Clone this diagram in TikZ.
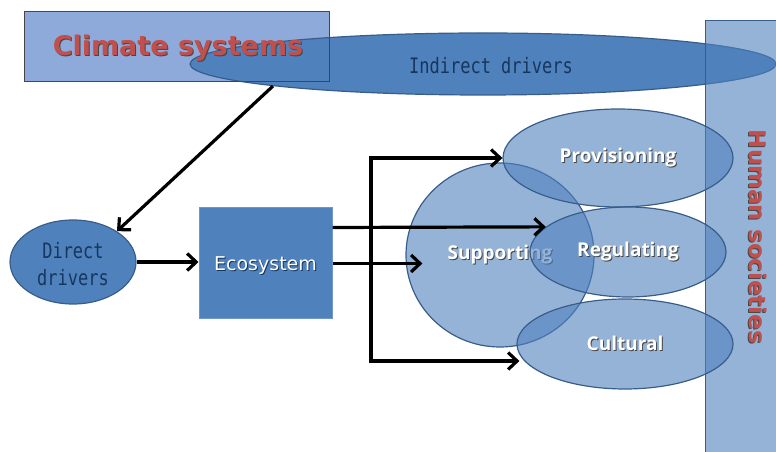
\documentclass[tikz,border=0pt]{standalone}
\usepackage{fontspec}
\usetikzlibrary{arrows.meta,calc,shapes.geometric}
\setmainfont{DejaVu Sans}
\newfontfamily\monof{DejaVu Sans Mono}
\newfontfamily\svcf{Open Sans}
\definecolor{mblue}{RGB}{79,129,189}
\definecolor{dblue}{RGB}{56,93,138}
\definecolor{lblue}{RGB}{142,170,219}
\definecolor{navy}{RGB}{23,54,93}
\definecolor{redt}{RGB}{192,80,77}
\definecolor{shdw}{RGB}{70,70,70}
\newcommand\shd[3]{\makebox[0pt][l]{\raisebox{-1pt}{\kern1pt\textcolor{#1}{#3}}}\textcolor{#2}{#3}}
\begin{document}
\begin{tikzpicture}[x=1pt,y=1pt,
  soft/.style={ellipse, draw=dblue, line width=1.2pt, fill=mblue, fill opacity=0.6, text opacity=1, inner sep=0pt},
  solid/.style={ellipse, draw=dblue, line width=1.2pt, fill=mblue, inner sep=0pt},
  arr/.style={draw=black, line width=3.2pt, -{Straight Barb[length=9pt,width=17pt]}},
  bus/.style={draw=black, line width=3.2pt},
  svc/.style={font=\svcf\bfseries\fontsize{19}{22}\selectfont},
  monotxt/.style={font=\monof\fontsize{17}{20}\selectfont, text=navy, yscale=1.25, transform shape, inner sep=0pt},
  redtxt/.style={font=\bfseries\fontsize{27}{30}\selectfont, inner sep=0pt}]
\useasboundingbox (0,0) rectangle (776,452);
% climate rectangle fill
\node[rectangle, fill=lblue, minimum width=304pt, minimum height=69pt, inner sep=0pt] (climate) at (177,405.5) {};
% indirect drivers ellipse
\node[solid, minimum width=586pt, minimum height=62pt] (ind) at (483,388) {};
\node[monotxt] (indtxt) at (491,386) {Indirect drivers};
\draw[draw=shdw, line width=0.8pt] (climate.south west) rectangle (climate.north east);
\node[redtxt] (climtxt) at (178,403) {\shd{shdw}{redt}{Climate systems}};
% human societies
\node[rectangle, draw=dblue, line width=1.2pt, fill=mblue, fill opacity=0.6, minimum width=80pt, minimum height=440pt, inner sep=0pt, anchor=north west] (human) at (705,432) {};
% direct drivers
\node[solid, minimum width=126pt, minimum height=84pt] (dd) at (73,190) {};
\node[monotxt, align=center, font=\monof\fontsize{17}{21.5}\selectfont] (ddtxt) at (73,188) {Direct\\drivers};
% ecosystem
\node[rectangle, draw={rgb,255:red,110;green,150;blue,205}, line width=1pt, fill=mblue, minimum width=133pt, minimum height=111pt, inner sep=0pt] (eco) at (265.5,188.5) {};
\node[inner sep=0pt, font=\fontsize{19}{22}\selectfont] (ecotxt) at (265.5,185.5) {\shd{navy}{white}{Ecosystem}};
% services
\node[soft, svc, minimum width=188pt, minimum height=184pt] (sup) at (500,197) {\shd{shdw}{white}{Supporting}};
\node[soft, svc, minimum width=230pt, minimum height=98pt] (prov) at (618,294) {\shd{shdw}{white}{Provisioning}};
\node[soft, svc, minimum width=196pt, minimum height=90pt] (reg) at (628,200) {\shd{shdw}{white}{Regulating}};
\node[soft, svc, minimum width=216pt, minimum height=90pt] (cul) at (625,108) {\shd{shdw}{white}{Cultural}};
\node[redtxt, rotate=-90, font=\bfseries\fontsize{23}{26}\selectfont] (humtxt) at (758,215) {\shd{shdw}{redt}{Human societies}};
% connectors
\draw[arr] (ind.186) -- (dd.35);
\draw[arr] (dd.east) -- (eco.west |- dd.east);
\draw[arr] ([yshift=-20pt]eco.north east) -- (reg.163);
\coordinate (suptip) at ([xshift=17pt]sup.west |- eco.east);
\draw[arr] (eco.east) -- (suptip);
\coordinate (busT) at (371,294);
\coordinate (busB) at (371,91);
\coordinate (cultip) at ([xshift=3pt]cul.west |- busB);
\draw[bus, line cap=rect] (busT) -- (busB);
\draw[arr] (busT) -- (prov.west);
\draw[arr] (busB) -- (cultip);
\end{tikzpicture}
\end{document}
